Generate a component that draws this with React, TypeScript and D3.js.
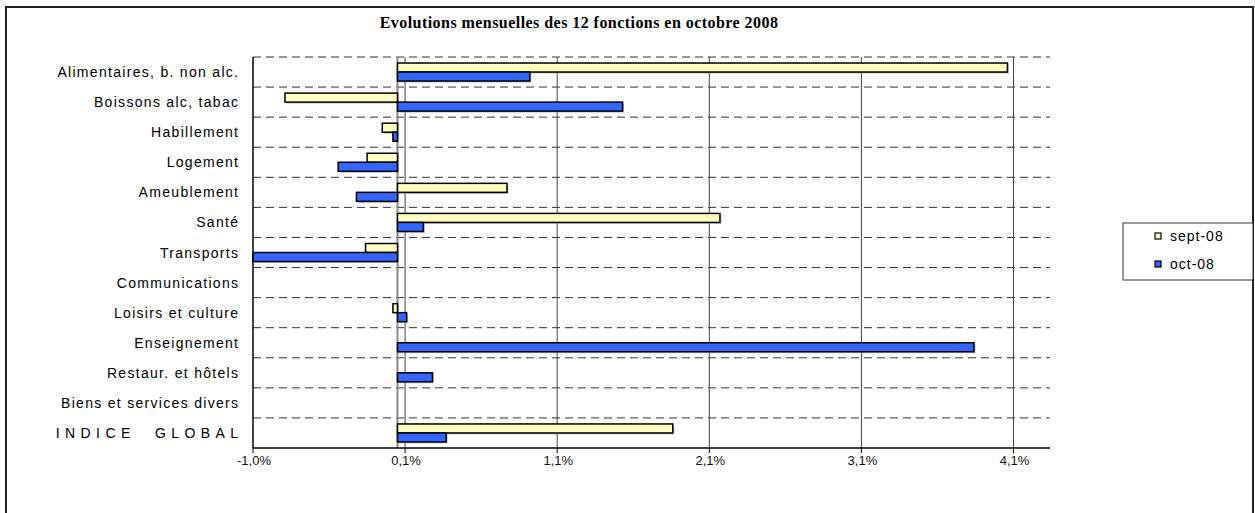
import React from "react";
import * as d3 from "d3";

const title = "Evolutions mensuelles des 12 fonctions en octobre 2008";
const categories = [
  "Alimentaires, b. non alc.",
  "Boissons alc, tabac",
  "Habillement",
  "Logement",
  "Ameublement",
  "Santé",
  "Transports",
  "Communications",
  "Loisirs et culture",
  "Enseignement",
  "Restaur. et hôtels",
  "Biens et services divers",
  "INDICE GLOBAL",
];
const seriesNames = ["sept-08", "oct-08"];
const septValues = [4.01, -0.74, -0.1, -0.2, 0.72, 2.12, -0.21, 0, -0.03, 0, 0, 0, 1.81];
const octValues = [0.87, 1.48, -0.03, -0.39, -0.27, 0.17, -0.95, 0, 0.06, 3.79, 0.23, 0, 0.32];
const tickValues = [-0.95, 0.05, 1.05, 2.05, 3.05, 4.05];
const tickLabels = ["-1,0%", "0,1%", "1,1%", "2,1%", "3,1%", "4,1%"];
const colors = ["#FFFFC0", "#3366FF"];

const W = 1255;
const H = 513;
const plot = { left: 253, right: 1050, top: 57, bottom: 448 };

export default function App() {
  const x = d3.scaleLinear().domain([-0.95, 4.29]).range([plot.left, plot.right]);
  const y = d3.scaleBand<string>().domain(categories).range([plot.top, plot.bottom]);
  const sub = d3
    .scaleBand<string>()
    .domain(seriesNames)
    .range([0, y.bandwidth()])
    .paddingOuter(0.67);
  const series = [septValues, octValues];
  const bands = categories.map((c) => y(c) as number);
  const sans = "'Liberation Sans', Arial, sans-serif";

  return (
    <svg
      width={W}
      height={H}
      style={{ position: "absolute", left: 0, top: 0, background: "#fff" }}
    >
      <rect x={6} y={7} width={1247} height={520} fill="#fff" stroke="#222" strokeWidth={2} />
      <text
        x={579}
        y={28}
        textAnchor="middle"
        fontFamily="'Liberation Serif', 'Times New Roman', serif"
        fontWeight="bold"
        fontSize={16}
        letterSpacing={0.45}
        fill="#000"
      >
        {title}
      </text>

      {/* horizontal dashed gridlines */}
      {bands.map((b, i) => (
        <line
          key={"h" + i}
          x1={plot.left}
          x2={plot.right}
          y1={b}
          y2={b}
          stroke="#333"
          strokeWidth={1}
          strokeDasharray="8,5"
        />
      ))}
      {/* vertical gridlines */}
      {tickValues.slice(1).map((t, i) => (
        <line
          key={"v" + i}
          x1={x(t)}
          x2={x(t)}
          y1={plot.top}
          y2={plot.bottom}
          stroke="#444"
          strokeWidth={1}
        />
      ))}
      {/* zero line */}
      <line x1={x(0)} x2={x(0)} y1={plot.top} y2={plot.bottom} stroke="#888" strokeWidth={2} />

      {/* bars */}
      {series.map((vals, si) =>
        vals.map((v, i) => {
          if (v === 0) return null;
          const x0 = x(Math.min(0, v));
          const w = Math.abs(x(v) - x(0));
          const yy = bands[i] + (sub(seriesNames[si]) as number);
          const h = sub.bandwidth();
          return (
            <g key={"b" + si + "-" + i}>
              <rect x={x0 + 1.5} y={yy + 1.5} width={w} height={h} fill="#999" opacity={0.6} />
              <rect x={x0} y={yy} width={w} height={h} fill={colors[si]} stroke="#000" strokeWidth={1.5} />
            </g>
          );
        })
      )}

      {/* axes */}
      <line x1={plot.left} x2={plot.left} y1={plot.top} y2={plot.bottom} stroke="#000" strokeWidth={1.5} />
      <line x1={plot.left} x2={plot.right} y1={plot.bottom} y2={plot.bottom} stroke="#000" strokeWidth={1.5} />
      {tickValues.map((t, i) => (
        <g key={"t" + i}>
          <line x1={x(t)} x2={x(t)} y1={plot.bottom} y2={plot.bottom + 5} stroke="#000" strokeWidth={1} />
          <text x={x(t) + 1} y={465} textAnchor="middle" fontFamily={sans} fontSize={13} fill="#111">
            {tickLabels[i]}
          </text>
        </g>
      ))}

      {/* category labels */}
      {categories.map((c, i) => {
        const isGlobal = c === "INDICE GLOBAL";
        const ls = isGlobal ? 5.4 : 1.3;
        return (
          <text
            key={"c" + i}
            x={238 + ls}
            y={bands[i] + y.bandwidth() / 2 + 5}
            textAnchor="end"
            fontFamily={sans}
            fontSize={14}
            letterSpacing={ls}
            wordSpacing={isGlobal ? 10 : 0}
            fill="#000"
          >
            {c}
          </text>
        );
      })}

      {/* legend */}
      <rect x={1123} y={223} width={130} height={57} fill="#fff" stroke="#333" strokeWidth={1} />
      {seriesNames.map((s, i) => (
        <g key={"l" + i}>
          <rect x={1155} y={233 + i * 28} width={6} height={6} fill={colors[i]} stroke="#000" strokeWidth={1.2} />
          <text x={1170} y={241 + i * 28} fontFamily={sans} fontSize={14} letterSpacing={1} fill="#000">
            {s}
          </text>
        </g>
      ))}
    </svg>
  );
}
